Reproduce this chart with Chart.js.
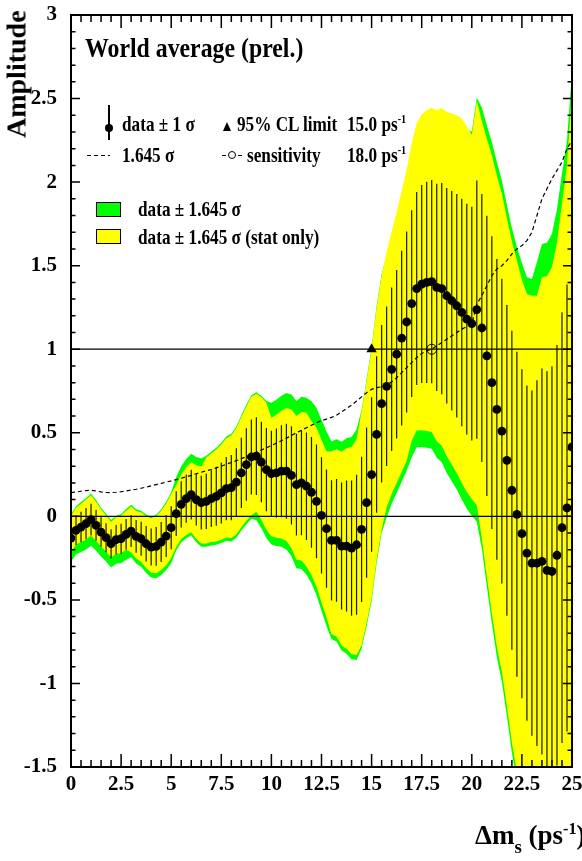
<!DOCTYPE html>
<html>
<head>
<meta charset="utf-8">
<script src="https://cdn.jsdelivr.net/npm/chart.js@4.4.1/dist/chart.umd.min.js"></script>
<style>
  html, body { margin: 0; padding: 0; background: #fff; }
  #wrap { position: relative; width: 582px; height: 861px; overflow: hidden; }
  #plot { position: absolute; left: 0; top: 0; }
  .t {
    position: absolute; color: #000; white-space: nowrap; line-height: 1;
    font-family: "Liberation Serif", "Times New Roman", serif; font-weight: bold;
    transform-origin: 0 0;
  }
  .c { transform: scaleX(0.8); }
  .t sup { font-size: 0.6em; position: relative; top: -0.6em; vertical-align: baseline; }
  .t sub { font-size: 0.7em; position: relative; top: 0.45em; vertical-align: baseline; }
  .sym { position: absolute; }
</style>
</head>
<body>
<div id="wrap">
  <canvas id="plot" width="582" height="861"></canvas>

  <div class="t" style="font-size:28px; transform: translate(2.5px,138px) rotate(-90deg);">Amplitude</div>
  <div class="t" style="font-size:27px; left:475px; top:822px;">&Delta;m<sub>s</sub> (ps<sup>-1</sup>)</div>

  <div class="t" style="font-size:28px; left:85px; top:34px; transform: scaleX(0.85);">World average (prel.)</div>

  <!-- legend: markers -->
  <div class="sym" style="left:108px; top:105px; width:1.5px; height:35px; background:#000;"></div>
  <div class="sym" style="left:105px; top:123.5px; width:8px; height:8px; border-radius:50%; background:#000;"></div>
  <div class="t c" style="font-size:21.5px; left:122px; top:114px;">data &plusmn; 1 &sigma;</div>

  <div class="sym" style="left:222.5px; top:122px; width:0; height:0; border-left:4.5px solid transparent; border-right:4.5px solid transparent; border-bottom:9px solid #000;"></div>
  <div class="t c" style="font-size:21.5px; left:237px; top:114px;">95% CL limit</div>
  <div class="t c" id="limTxt" style="font-size:21.5px; left:347px; top:114px;"></div>

  <div class="sym" style="left:87px; top:154.5px; width:23px; height:1.3px; background:repeating-linear-gradient(to right,#000 0 4px,transparent 4px 7px);"></div>
  <div class="t c" style="font-size:21.5px; left:122px; top:145px;">1.645 &sigma;</div>

  <div class="sym" style="left:222px; top:154.5px; width:20px; height:1.2px; background:repeating-linear-gradient(to right,#000 0 4px,transparent 4px 16px,#000 16px 20px);"></div>
  <div class="sym" style="left:227.5px; top:150.5px; width:8px; height:8px; border:1px solid #000; border-radius:50%; box-sizing:border-box;"></div>
  <div class="t c" style="font-size:21.5px; left:247px; top:145px;">sensitivity</div>
  <div class="t c" id="sensTxt" style="font-size:21.5px; left:347px; top:145px;"></div>

  <!-- legend: bands -->
  <div class="sym" style="left:96px; top:202px; width:25px; height:15px; background:#00ff00; border:1px solid #000; box-sizing:border-box;"></div>
  <div class="t c" style="font-size:21.5px; left:138px; top:199px;">data &plusmn; 1.645 &sigma;</div>
  <div class="sym" style="left:96px; top:229px; width:25px; height:15px; background:#ffff00; border:1px solid #000; box-sizing:border-box;"></div>
  <div class="t c" style="font-size:21.5px; left:138px; top:227px;">data &plusmn; 1.645 &sigma; (stat only)</div>
</div>

<script>
// ── Scan points (Δm_s in ps^-1) ─────────────────────────
const dms = [
  0, 0.25, 0.5, 0.75, 1, 1.25, 1.5, 1.75, 2, 2.25,
  2.5, 2.75, 3, 3.25, 3.5, 3.75, 4, 4.25, 4.5, 4.75,
  5, 5.25, 5.5, 5.75, 6, 6.25, 6.5, 6.75, 7, 7.25,
  7.5, 7.75, 8, 8.25, 8.5, 8.75, 9, 9.25, 9.5, 9.75,
  10, 10.25, 10.5, 10.75, 11, 11.25, 11.5, 11.75, 12, 12.25,
  12.5, 12.75, 13, 13.25, 13.5, 13.75, 14, 14.25, 14.5, 14.75,
  15, 15.25, 15.5, 15.75, 16, 16.25, 16.5, 16.75, 17, 17.25,
  17.5, 17.75, 18, 18.25, 18.5, 18.75, 19, 19.25, 19.5, 19.75,
  20, 20.25, 20.5, 20.75, 21, 21.25, 21.5, 21.75, 22, 22.25,
  22.5, 22.75, 23, 23.25, 23.5, 23.75, 24, 24.25, 24.5, 24.75,
  25
];

// measured amplitude
const amp = [
  -0.13, -0.084, -0.064, -0.044, -0.02, -0.054, -0.094, -0.128, -0.164, -0.14,
  -0.134, -0.108, -0.088, -0.12, -0.134, -0.164, -0.184, -0.18, -0.154, -0.118,
  -0.068, 0.016, 0.072, 0.106, 0.13, 0.10, 0.082, 0.09, 0.106, 0.12,
  0.14, 0.166, 0.172, 0.205, 0.26, 0.31, 0.355, 0.36, 0.325, 0.28,
  0.255, 0.26, 0.27, 0.27, 0.245, 0.19, 0.2, 0.18, 0.144, 0.09,
  0.006, -0.074, -0.144, -0.144, -0.178, -0.178, -0.19, -0.17, -0.078, 0.082,
  0.25, 0.49, 0.674, 0.778, 0.88, 0.97, 1.067, 1.163, 1.273, 1.363,
  1.39, 1.40, 1.405, 1.37, 1.363, 1.32, 1.29, 1.26, 1.22, 1.18,
  1.153, 1.237, 1.127, 0.96, 0.80, 0.64, 0.51, 0.335, 0.156, 0.012,
  -0.104, -0.22, -0.28, -0.28, -0.27, -0.323, -0.33, -0.233, -0.068, 0.05,
  0.415
];

// 1.645 sigma, total errors (also the dashed curve)
const err1645 = [
  0.142, 0.145, 0.15, 0.154, 0.156, 0.152, 0.146, 0.143, 0.142, 0.144,
  0.147, 0.152, 0.157, 0.162, 0.168, 0.175, 0.182, 0.19, 0.197, 0.205,
  0.212, 0.22, 0.228, 0.237, 0.245, 0.255, 0.264, 0.272, 0.28, 0.29,
  0.30, 0.312, 0.322, 0.333, 0.345, 0.357, 0.37, 0.383, 0.397, 0.41,
  0.424, 0.438, 0.452, 0.468, 0.484, 0.5, 0.515, 0.53, 0.545, 0.56,
  0.572, 0.582, 0.592, 0.605, 0.625, 0.645, 0.665, 0.69, 0.715, 0.74,
  0.76, 0.77, 0.775, 0.785, 0.805, 0.83, 0.86, 0.89, 0.92, 0.95,
  0.975, 0.99, 1.0, 1.02, 1.04, 1.06, 1.08, 1.10, 1.12, 1.135,
  1.15, 1.27, 1.32, 1.38, 1.44, 1.48, 1.5, 1.53, 1.57, 1.6,
  1.62, 1.65, 1.7, 1.8, 1.9, 1.96, 2.02, 2.07, 2.12, 2.2,
  2.25
];

// 1.645 sigma, statistical errors only (upper and lower side)
const statUp = [
  0.132, 0.135, 0.14, 0.144, 0.146, 0.142, 0.136, 0.133, 0.132, 0.134,
  0.137, 0.142, 0.147, 0.152, 0.158, 0.165, 0.172, 0.18, 0.187, 0.195,
  0.202, 0.17, 0.178, 0.187, 0.195, 0.205, 0.214, 0.262, 0.27, 0.28,
  0.29, 0.302, 0.312, 0.323, 0.335, 0.347, 0.36, 0.373, 0.387, 0.40,
  0.334, 0.348, 0.362, 0.378, 0.394, 0.41, 0.425, 0.44, 0.425, 0.44,
  0.452, 0.462, 0.532, 0.545, 0.565, 0.585, 0.605, 0.63, 0.705, 0.73,
  0.75, 0.76, 0.765, 0.805, 0.825, 0.85, 0.88, 0.91, 0.96, 0.99,
  1.015, 1.03, 1.04, 1.06, 1.08, 1.10, 1.12, 1.14, 1.16, 1.155,
  1.13, 1.25, 1.24, 1.30, 1.36, 1.40, 1.42, 1.45, 1.49, 1.52,
  1.52, 1.55, 1.6, 1.6, 1.7, 1.76, 1.82, 1.87, 1.94, 2.05,
  2.12
];
const statDn = [
  0.082, 0.085, 0.09, 0.094, 0.096, 0.092, 0.086, 0.083, 0.082, 0.084,
  0.087, 0.092, 0.127, 0.132, 0.138, 0.145, 0.152, 0.16, 0.167, 0.175,
  0.182, 0.2, 0.208, 0.217, 0.225, 0.235, 0.244, 0.252, 0.26, 0.27,
  0.28, 0.292, 0.302, 0.313, 0.325, 0.337, 0.35, 0.333, 0.347, 0.36,
  0.374, 0.388, 0.402, 0.418, 0.434, 0.45, 0.465, 0.48, 0.495, 0.51,
  0.522, 0.532, 0.562, 0.575, 0.595, 0.615, 0.635, 0.66, 0.695, 0.72,
  0.74, 0.75, 0.755, 0.725, 0.745, 0.77, 0.8, 0.83, 0.82, 0.85,
  0.875, 0.89, 0.90, 0.92, 0.94, 0.96, 0.98, 1.0, 1.02, 1.035,
  1.05, 1.17, 1.26, 1.32, 1.38, 1.42, 1.44, 1.47, 1.51, 1.54,
  1.57, 1.6, 1.65, 1.7, 1.8, 1.86, 1.92, 1.97, 2.02, 2.1,
  2.15
];

const limit95 = 15.0;      // 95% CL lower limit
const sensitivity = 18.0;  // where 1.645 sigma crosses A = 1

const xTicks = [0, 2.5, 5, 7.5, 10, 12.5, 15, 17.5, 20, 22.5, 25];
const yTicks = [-1.5, -1, -0.5, 0, 0.5, 1, 1.5, 2, 2.5, 3];

document.getElementById("limTxt").innerHTML = limit95.toFixed(1) + " ps<sup>-1</sup>";
document.getElementById("sensTxt").innerHTML = sensitivity.toFixed(1) + " ps<sup>-1</sup>";

// ── Helpers ─────────────────────────────────────────────
const xy = (f) => dms.map((x, i) => ({ x, y: f(i) }));
const edge = { pointRadius: 0, borderWidth: 0, borderColor: "rgba(0,0,0,0)", clip: 0 };

const errBars = dms.flatMap((x, i) => {
  const s = err1645[i] / 1.645;
  return [{ x, y: amp[i] - s }, { x, y: amp[i] + s }, { x, y: null }];
});

// frame with inward ticks on all four sides
const frame = {
  id: "frame",
  afterDatasetsDraw(chart) {
    const { ctx, chartArea: a, scales: { x, y } } = chart;
    ctx.save();
    ctx.strokeStyle = "#000";
    ctx.lineWidth = 1.5;
    ctx.beginPath();
    for (let k = -15; k <= 30; k++) {
      const py = y.getPixelForValue(k / 10);
      const len = k % 5 === 0 ? 9 : 4.5;
      ctx.moveTo(a.left, py);  ctx.lineTo(a.left + len, py);
      ctx.moveTo(a.right, py); ctx.lineTo(a.right - len, py);
    }
    for (let k = 0; k <= 50; k++) {
      const px = x.getPixelForValue(k / 2);
      const len = k % 5 === 0 ? 13 : 7;
      ctx.moveTo(px, a.bottom); ctx.lineTo(px, a.bottom - len);
      ctx.moveTo(px, a.top);    ctx.lineTo(px, a.top + len);
    }
    ctx.stroke();
    ctx.lineWidth = 2;
    ctx.strokeRect(a.left, a.top, a.width, a.height);
    ctx.restore();
  }
};

const tickFont = { family: "'Liberation Serif', 'Times New Roman', serif", weight: "bold", size: 21 };

new Chart(document.getElementById("plot"), {
  type: "line",
  data: {
    datasets: [
      { ...edge, data: xy(i => amp[i] - err1645[i]), fill: false, order: 10 },
      { ...edge, data: xy(i => amp[i] + err1645[i]), fill: "-1", backgroundColor: "#00ff00", order: 10 },
      { ...edge, data: xy(i => amp[i] - statDn[i]), fill: false, order: 9 },
      { ...edge, data: xy(i => amp[i] + statUp[i]), fill: "-1", backgroundColor: "#ffff00", order: 9 },
      { data: [{ x: 0, y: 1 }, { x: 25, y: 1 }], borderColor: "#000", borderWidth: 1.2, pointRadius: 0, order: 8 },
      { data: [{ x: 0, y: 0 }, { x: 25, y: 0 }], borderColor: "#000", borderWidth: 1.2, pointRadius: 0, order: 8 },
      { data: errBars, borderColor: "#1a1a1a", borderWidth: 1.2, pointRadius: 0, spanGaps: false, clip: 0, order: 7 },
      { data: xy(i => err1645[i]), borderColor: "#000", borderWidth: 1.2, borderDash: [4, 3],
        pointRadius: 0, clip: 0, order: 6 },
      { data: xy(i => amp[i]), showLine: false, pointRadius: 4.4, pointBackgroundColor: "#000",
        pointBorderWidth: 0, clip: 0, order: 5 },
      { data: [{ x: limit95, y: 1 }], showLine: false, pointStyle: "triangle", pointRadius: 6,
        pointBackgroundColor: "#000", pointBorderColor: "#000", pointBorderWidth: 0, order: 4 },
      { data: [{ x: sensitivity, y: 1 }], showLine: false, pointStyle: "circle", pointRadius: 5,
        pointBackgroundColor: "rgba(0,0,0,0)", pointBorderColor: "#000", pointBorderWidth: 1, order: 4 }
    ]
  },
  options: {
    responsive: false,
    animation: false,
    devicePixelRatio: 1,
    layout: { autoPadding: false, padding: { top: 15, right: 10, bottom: 0, left: 0 } },
    plugins: { legend: { display: false }, tooltip: { enabled: false } },
    scales: {
      x: {
        type: "linear", min: 0, max: 25, offset: false,
        grid: { display: false, drawTicks: false }, border: { display: false },
        afterBuildTicks: s => { s.ticks = xTicks.map(v => ({ value: v })); },
        afterFit: s => { s.height = 94; s.paddingLeft = 0; s.paddingRight = 0; },
        ticks: { color: "#000", font: tickFont, padding: 5, maxRotation: 0, autoSkip: false,
                 callback: v => String(v) }
      },
      y: {
        type: "linear", min: -1.5, max: 3,
        grid: { display: false, drawTicks: false }, border: { display: false },
        afterBuildTicks: s => { s.ticks = yTicks.map(v => ({ value: v })); },
        afterFit: s => { s.width = 71; s.paddingTop = 0; s.paddingBottom = 0; },
        ticks: { color: "#000", font: tickFont, padding: 14, autoSkip: false,
                 callback: v => String(v) }
      }
    }
  },
  plugins: [frame]
});
</script>
</body>
</html>
